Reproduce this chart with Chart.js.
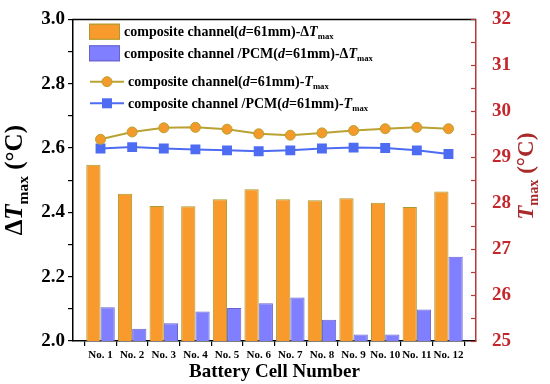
<!DOCTYPE html>
<html><head><meta charset="utf-8">
<script src="https://cdn.jsdelivr.net/npm/chart.js@4/dist/chart.umd.min.js"></script>
<style>html,body{margin:0;padding:0;background:#fff;}</style>
</head><body>
<canvas id="c" width="550" height="384"></canvas>
<script>
// ---- data ----
const categories = ['No. 1','No. 2','No. 3','No. 4','No. 5','No. 6','No. 7','No. 8','No. 9','No. 10','No. 11','No. 12'];
const dTmaxComposite = [2.548,2.458,2.420,2.419,2.441,2.472,2.441,2.438,2.444,2.430,2.417,2.465];
const dTmaxPCM       = [2.105,2.038,2.055,2.092,2.103,2.117,2.135,2.066,2.020,2.020,2.098,2.262];
const tmaxComposite  = [29.39,29.55,29.64,29.65,29.61,29.51,29.48,29.53,29.58,29.62,29.65,29.62];
const tmaxPCM        = [29.19,29.22,29.19,29.17,29.15,29.13,29.15,29.19,29.21,29.20,29.15,29.07];
const leftTickLabels  = ['2.0','2.2','2.4','2.6','2.8','3.0'];
const rightTickLabels = ['25','26','27','28','29','30','31','32'];
// legend / titles markup: *italic*, _sub
const seriesNames = [
  'composite channel(*d*=61mm)-Δ*T*_max',
  'composite channel /PCM(*d*=61mm)-Δ*T*_max',
  'composite channel(*d*=61mm)-*T*_max',
  'composite channel /PCM(*d*=61mm)-*T*_max'
];
const xTitle = 'Battery Cell Number';
const leftTitle = 'Δ*T*_max (°C)';
const rightTitle = '*T*_max (°C)';

const FONT = '"Liberation Serif","Times New Roman",serif';
const C = {
  orange:'#F89A2C', orangeBorder:'#A89A2E',
  blue:'#7F7FFF', blueBorder:'#6A62C8',
  gold:'#B9A232', goldMarker:'#F39A2A',
  line2:'#4E6CF2',
  red:'#C4262C', darkRed:'#A82A2A', axisRed:'#B23A3A'
};

function parseRich(t){
  const out=[]; const re=/(\*[^*]+\*|_[A-Za-z]+)/g; let last=0, m;
  while((m=re.exec(t))){
    if(m.index>last) out.push({t:t.slice(last,m.index)});
    const s=m[0];
    if(s[0]==='*') out.push({t:s.slice(1,-1),i:true}); else out.push({t:s.slice(1),sub:true});
    last=re.lastIndex;
  }
  if(last<t.length) out.push({t:t.slice(last)});
  return out;
}
function fontFor(seg,size){
  const sz = seg.sub ? size*0.62 : size;
  return (seg.i?'italic ':'')+'bold '+sz+'px '+FONT;
}
function richWidth(ctx,text,size){
  let w=0; for(const s of parseRich(text)){ctx.font=fontFor(s,size); w+=ctx.measureText(s.t).width;} return w;
}
function drawRich(ctx,text,x,y,size,color){
  ctx.fillStyle=color; ctx.textBaseline='alphabetic'; ctx.textAlign='left';
  let cx=x;
  for(const s of parseRich(text)){
    ctx.font=fontFor(s,size);
    ctx.fillText(s.t,cx,s.sub?y+size*0.22:y);
    cx+=ctx.measureText(s.t).width;
  }
}

const decor = {
  id:'decor',
  afterDraw(chart){
    const ctx=chart.ctx, a=chart.chartArea;
    const yR=chart.scales.y2;
    ctx.save();
    // top frame
    ctx.strokeStyle='#000'; ctx.lineWidth=1.5;
    ctx.beginPath(); ctx.moveTo(a.left-0.75,a.top); ctx.lineTo(a.right,a.top); ctx.stroke();
    // right axis inward ticks
    ctx.strokeStyle=C.axisRed; ctx.lineWidth=1.2;
    for(let v=yR.min; v<=yR.max+1e-9; v+=0.5){
      const py=Math.round(yR.getPixelForValue(v))+0.5;
      ctx.beginPath(); ctx.moveTo(a.right-5,py); ctx.lineTo(a.right,py); ctx.stroke();
    }
    // legend
    const lx=89;
    const rowsY=[31.7,53.3,81.7,103.3];
    const fs=14;
    [[C.orange,C.orangeBorder],[C.blue,C.blueBorder]].forEach((c,i)=>{
      ctx.fillStyle=c[0]; ctx.strokeStyle=c[1]; ctx.lineWidth=1;
      ctx.fillRect(lx,rowsY[i]-8,31,16); ctx.strokeRect(lx+0.5,rowsY[i]-7.5,30,15);
      drawRich(ctx,seriesNames[i],124,rowsY[i]+4.5,fs,'#000');
    });
    ctx.lineWidth=2;
    ctx.strokeStyle=C.gold; ctx.beginPath(); ctx.moveTo(90,rowsY[2]); ctx.lineTo(124,rowsY[2]); ctx.stroke();
    ctx.fillStyle=C.goldMarker; ctx.strokeStyle=C.gold; ctx.lineWidth=1;
    ctx.beginPath(); ctx.arc(107,rowsY[2],5,0,Math.PI*2); ctx.fill(); ctx.stroke();
    drawRich(ctx,seriesNames[2],128,rowsY[2]+4.5,fs,'#000');
    ctx.lineWidth=2; ctx.strokeStyle=C.line2; ctx.beginPath(); ctx.moveTo(90,rowsY[3]); ctx.lineTo(124,rowsY[3]); ctx.stroke();
    ctx.fillStyle=C.line2; ctx.fillRect(102,rowsY[3]-5,10,10);
    drawRich(ctx,seriesNames[3],128,rowsY[3]+4.5,fs,'#000');
    // x title
    ctx.font='bold 19px '+FONT; ctx.fillStyle='#000'; ctx.textAlign='center'; ctx.textBaseline='alphabetic';
    ctx.fillText(xTitle,(a.left+a.right)/2,377);
    // left title
    const cy=(a.top+a.bottom)/2;
    let size=25;
    ctx.save(); ctx.translate(22,cy); ctx.rotate(-Math.PI/2);
    let w=richWidth(ctx,leftTitle,size); drawRich(ctx,leftTitle,-w/2,0,size,'#000'); ctx.restore();
    // right title
    size=23;
    ctx.save(); ctx.translate(533,cy-4); ctx.rotate(-Math.PI/2);
    w=richWidth(ctx,rightTitle,size); drawRich(ctx,rightTitle,-w/2,0,size,C.darkRed); ctx.restore();
    ctx.restore();
  }
};

const toXY = arr => arr.map((v,i)=>({x:i+1,y:v}));

new Chart(document.getElementById('c'),{
  type:'bar',
  data:{datasets:[
    {type:'line',label:seriesNames[2],data:toXY(tmaxComposite),yAxisID:'y2',order:0,
     borderColor:C.gold,borderWidth:2,pointRadius:5,pointBackgroundColor:C.goldMarker,pointBorderColor:C.gold,pointBorderWidth:1,pointStyle:'circle'},
    {type:'line',label:seriesNames[3],data:toXY(tmaxPCM),yAxisID:'y2',order:0,
     borderColor:C.line2,borderWidth:2,pointRadius:7,pointBackgroundColor:C.line2,pointBorderColor:C.line2,pointBorderWidth:0,pointStyle:'rect'},
    {label:seriesNames[0],data:toXY(dTmaxComposite),yAxisID:'y',order:1,backgroundColor:C.orange,borderColor:C.orangeBorder,borderWidth:1,barPercentage:1,categoryPercentage:0.9},
    {label:seriesNames[1],data:toXY(dTmaxPCM),yAxisID:'y',order:1,backgroundColor:C.blue,borderColor:C.blueBorder,borderWidth:1,barPercentage:1,categoryPercentage:0.9}
  ]},
  options:{
    responsive:false, animation:false, devicePixelRatio:1,
    layout:{padding:{top:15,left:0,right:0,bottom:0}},
    plugins:{legend:{display:false},tooltip:{enabled:false}},
    scales:{
      x:{type:'linear',position:'bottom',min:0.13,max:12.87,offset:false,
        afterBuildTicks:s=>{s.ticks=categories.map((_,i)=>({value:i+1}));},
        afterFit:s=>{s.height=43;},
        ticks:{autoSkip:false,maxRotation:0,padding:3,color:'#000',font:{family:FONT,weight:'bold',size:11},
          callback:v=>categories[Math.round(v)-1]||''},
        grid:{display:true,drawOnChartArea:false,drawTicks:true,tickLength:5,color:'#000',lineWidth:1.2},
        border:{display:true,color:'#000',width:1.5}},
      y:{type:'linear',position:'left',min:2,max:3,
        afterBuildTicks:s=>{const t=[];for(let i=0;i<=10;i++)t.push({value:+(2+i*0.1).toFixed(1)});s.ticks=t;},
        afterFit:s=>{s.width=73;},
        ticks:{padding:3,color:'#000',font:{family:FONT,weight:'bold',size:19},
          callback:v=>{const s=(+v).toFixed(1);return leftTickLabels.includes(s)?s:'';}},
        grid:{display:true,drawOnChartArea:false,drawTicks:true,tickLength:5,color:'#000',lineWidth:1.2},
        border:{display:true,color:'#000',width:1.5}},
      y2:{type:'linear',position:'right',min:25,max:32,
        afterBuildTicks:s=>{s.ticks=rightTickLabels.map(v=>({value:+v}));},
        afterFit:s=>{s.width=74;},
        ticks:{padding:8,color:C.red,font:{family:FONT,weight:'bold',size:19},
          callback:v=>String(v)},
        grid:{display:false},
        border:{display:true,color:C.axisRed,width:1.5}}
    }
  },
  plugins:[decor]
});
</script>
</body></html>
